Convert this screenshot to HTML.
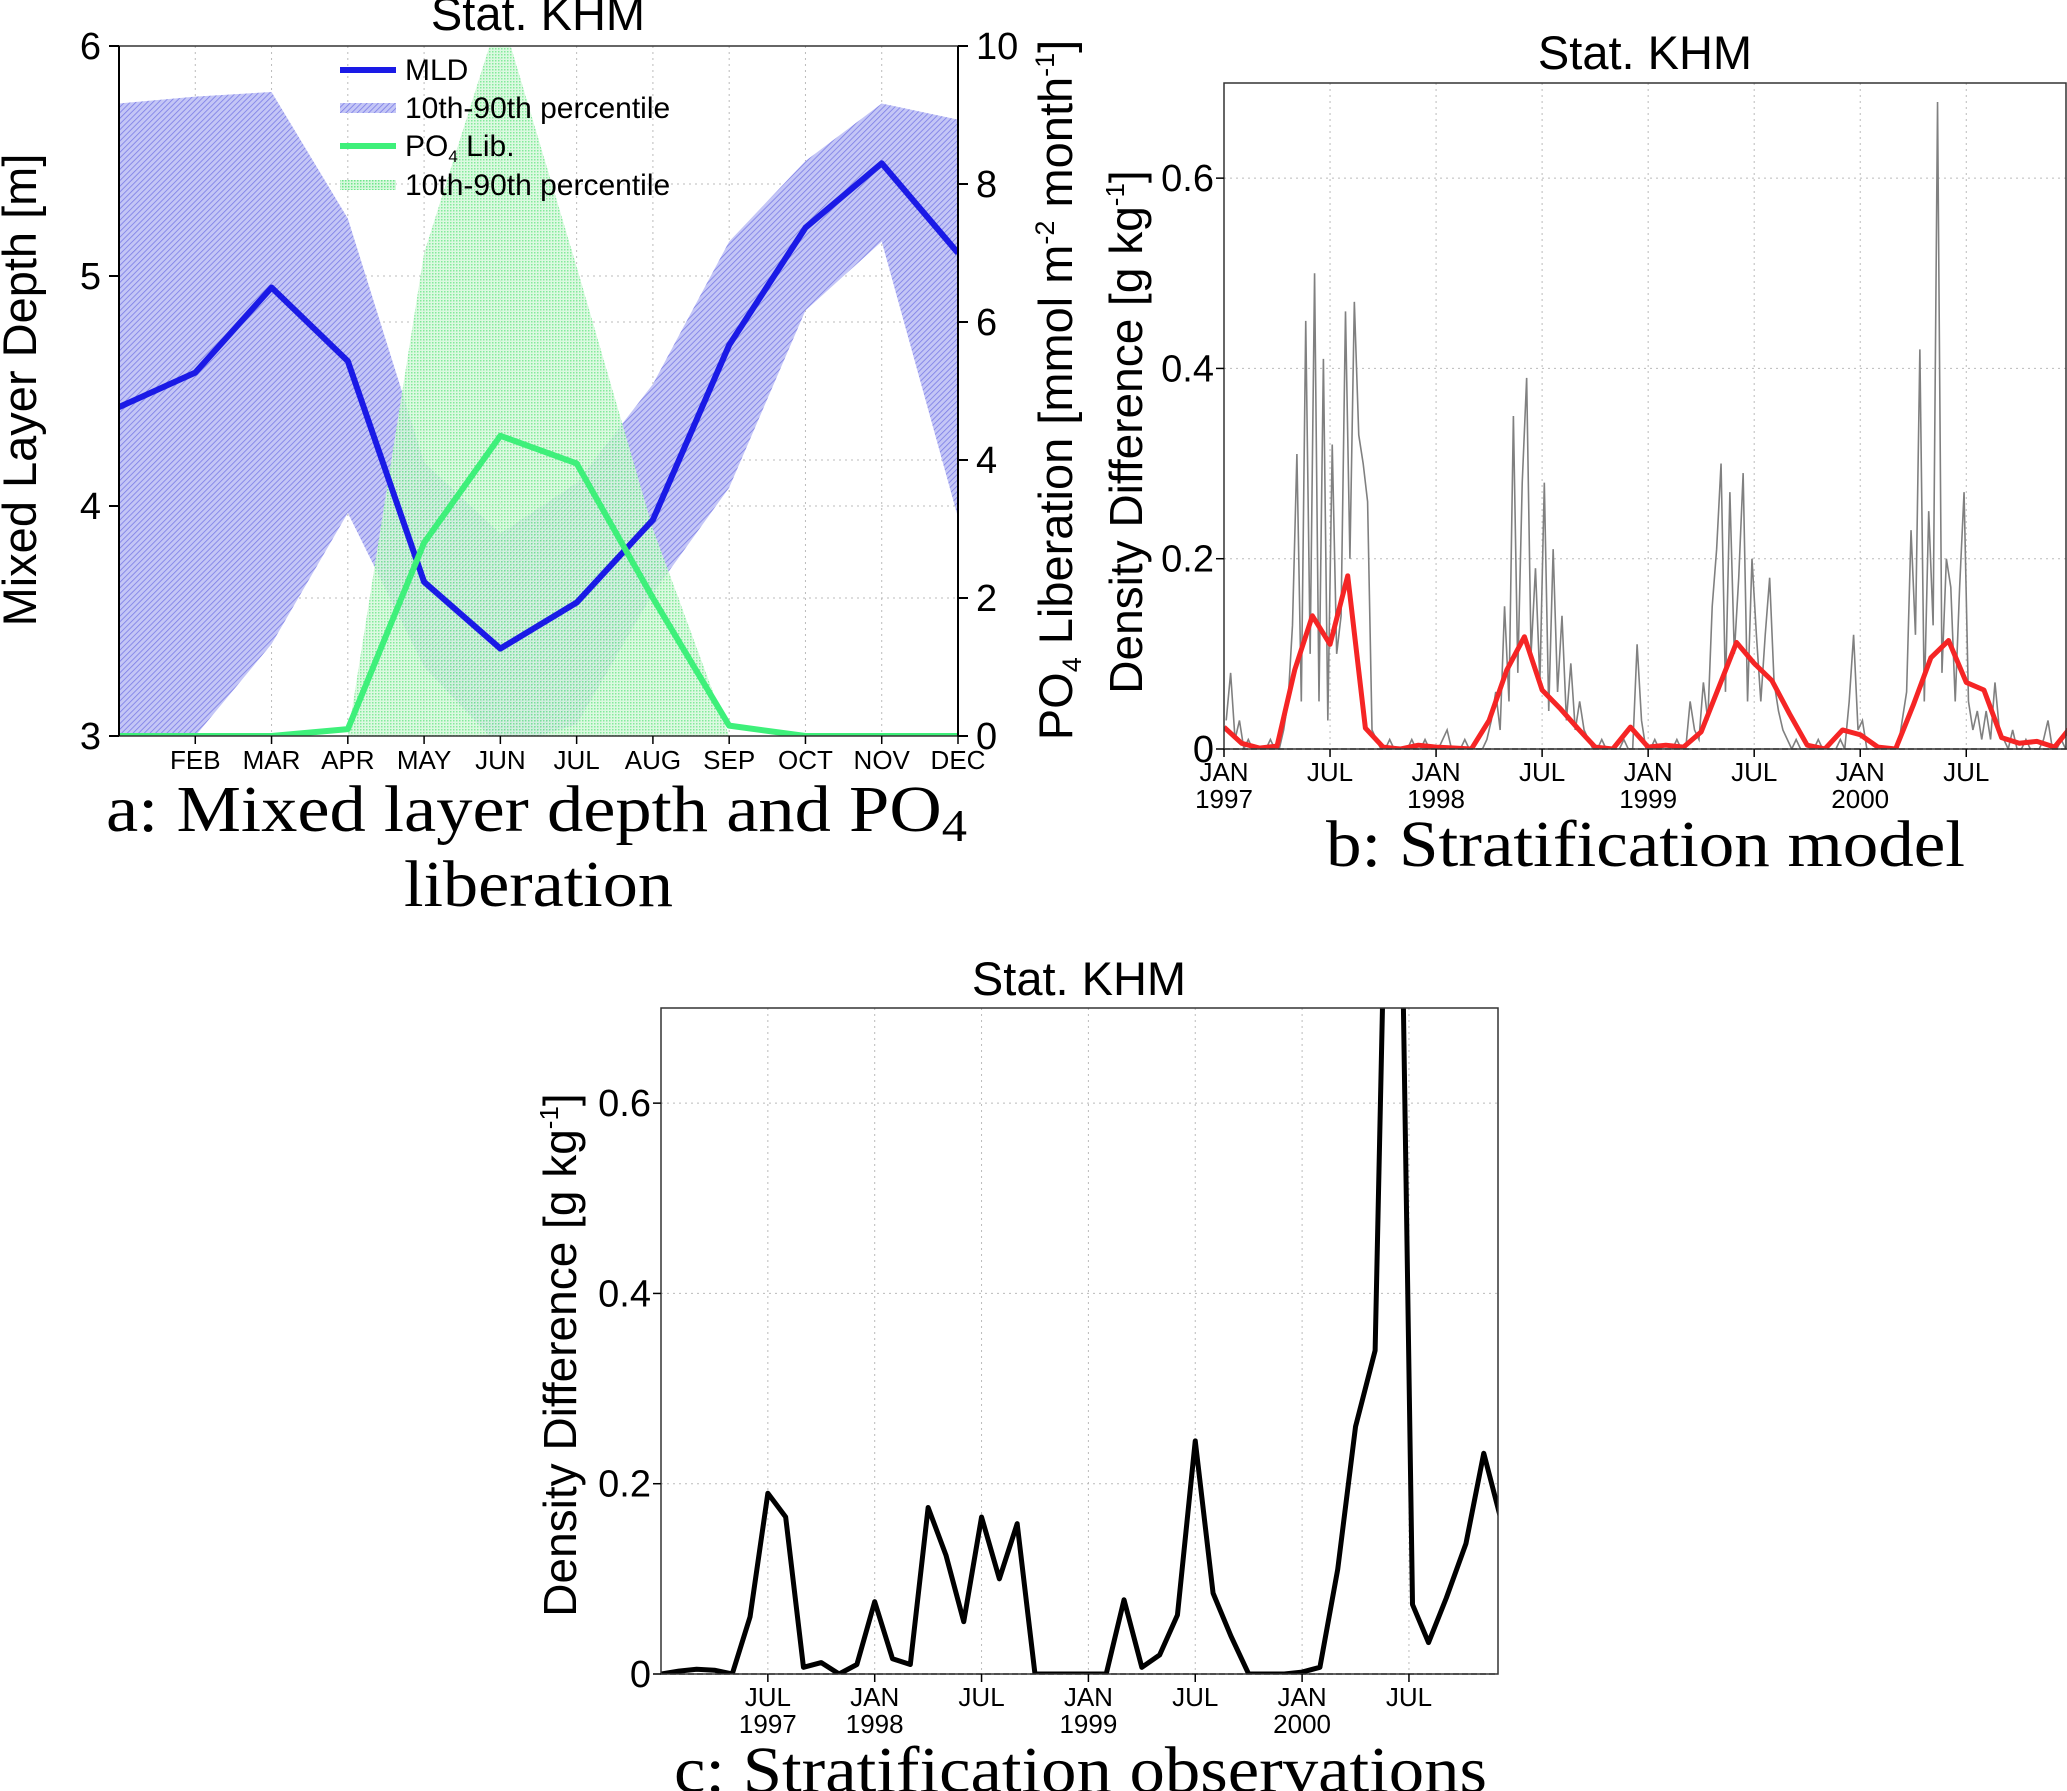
<!DOCTYPE html>
<html><head><meta charset="utf-8"><style>
html,body{margin:0;padding:0;background:#fff;}
svg{display:block;}
.t{font-family:"Liberation Sans Narrow","Liberation Sans",sans-serif;fill:#000;}
.s{font-family:"Liberation Sans",sans-serif;fill:#000;}
.cap{font-family:"Liberation Serif",serif;fill:#000;}
</style></head><body>
<svg id="fig" width="2067" height="1791" viewBox="0 0 2067 1791" xmlns="http://www.w3.org/2000/svg">
<defs>
<pattern id="hatch" width="4" height="4" patternUnits="userSpaceOnUse" patternTransform="rotate(45)">
<rect width="4" height="4" fill="#c4c6f6"/><line x1="0" y1="0" x2="0" y2="4" stroke="#7a7ce6" stroke-width="1.6"/></pattern>
<pattern id="dots" width="3" height="3" patternUnits="userSpaceOnUse">
<rect width="3" height="3" fill="#d6f8dc"/><rect width="1.5" height="1.5" fill="#6ee68a"/></pattern>
<clipPath id="clipA"><rect x="119" y="46" width="839" height="690"/></clipPath>
<clipPath id="clipB"><rect x="1224" y="83" width="843" height="666"/></clipPath>
<clipPath id="clipC"><rect x="661" y="1008" width="837" height="666"/></clipPath>
</defs>
<g id="pa"></g>
<g id="pb"></g>
<g id="pc"></g>
<text class="cap" x="106" y="831" font-size="66" textLength="861" lengthAdjust="spacingAndGlyphs">a:  Mixed layer depth and PO<tspan font-size="46" dy="10">4</tspan></text>
<text class="cap" x="404" y="906" font-size="66" textLength="269" lengthAdjust="spacingAndGlyphs">liberation</text>
<text class="cap" x="1326" y="866" font-size="66" textLength="639" lengthAdjust="spacingAndGlyphs">b:  Stratification model</text>
<text class="cap" x="674" y="1792" font-size="66" textLength="813" lengthAdjust="spacingAndGlyphs">c:  Stratification observations</text>
</svg>
<script>
// ---- Panel a data ----
const monthsA = ["JAN","FEB","MAR","APR","MAY","JUN","JUL","AUG","SEP","OCT","NOV","DEC"];
const mld = [4.43,4.58,4.95,4.63,3.67,3.38,3.58,3.94,4.70,5.21,5.49,5.10];
const mldHigh = [5.75,5.78,5.80,5.25,4.19,3.88,4.10,4.53,5.15,5.50,5.75,5.68];
const mldLow = [2.95,3.00,3.40,3.97,3.30,2.95,3.05,3.62,4.08,4.85,5.15,3.95];
const po4 = [0,0,0,0.1,2.8,4.35,3.95,2.0,0.15,0,0,0];
const po4High = [0,0,0,0,7.0,10.5,6.8,3.0,0,0,0,0];
const po4Low = [0,0,0,0,0,0,0,0,0,0,0,0];
const ticksLeftA = [3,4,5,6];
const ticksRightA = [0,2,4,6,8,10];
// ---- Panel b data ----
const redModel = [0.023,0.006,0.001,0.003,0.083,0.14,0.11,0.182,0.022,0.002,0.0,0.004,0.002,0.001,0.0,0.03,0.083,0.118,0.062,0.043,0.022,0.002,0.0,0.023,0.002,0.004,0.002,0.018,0.065,0.112,0.09,0.072,0.037,0.004,0.0,0.02,0.015,0.002,0.0,0.046,0.096,0.114,0.070,0.062,0.012,0.006,0.008,0.002,0.025];
const grayModel = [
0.03,0.08,0.01,0.03, 0,0.01,0,0, 0,0,0.01,0, 0,0.02,0.05,0.13,
0.31,0.05,0.45,0.1, 0.5,0.05,0.41,0.03, 0.32,0.1,0.14,0.46, 0.2,0.47,0.33,0.3,
0.26,0.02,0.01,0, 0,0.01,0,0, 0,0,0.01,0, 0,0.01,0,0,
0,0.01,0.02,0, 0,0,0.01,0, 0,0,0,0.01, 0.03,0.06,0.02,0.15,
0.05,0.35,0.08,0.28, 0.39,0.1,0.19,0.07, 0.28,0.04,0.21,0.06, 0.14,0.03,0.09,0.02,
0.05,0.02,0.01,0, 0,0.01,0,0, 0,0,0.01,0, 0,0.11,0.03,0,
0,0.01,0,0, 0,0,0.01,0, 0,0.05,0.02,0.01, 0.07,0.03,0.15,0.21,
0.3,0.06,0.27,0.1, 0.18,0.29,0.05,0.2, 0.12,0.05,0.12,0.18, 0.07,0.04,0.02,0.01,
0,0.01,0,0, 0,0,0.01,0, 0,0,0,0.01, 0,0.05,0.12,0.02,
0.03,0,0,0, 0,0,0,0, 0,0.03,0.06,0.23, 0.12,0.42,0.05,0.25,
0.13,0.68,0.08,0.2, 0.17,0.05,0.17,0.27, 0.05,0.02,0.04,0.01, 0.04,0.01,0.07,0.02,
0.01,0,0.02,0, 0,0.01,0,0, 0,0.01,0.03,0, 0,0.01,0,0];
const ticksY = [0,0.2,0.4,0.6];
const tickLabelsY = ["0","0.2","0.4","0.6"];
const ticksBMonth = [0,6,12,18,24,30,36,42];
const ticksBLab1 = ["JAN","JUL","JAN","JUL","JAN","JUL","JAN","JUL"];
const ticksBLab2 = ["1997","","1998","","1999","","2000",""];
// ---- Panel c data ----
const obsMonth = [0,1,2,3,4,5,6,7,8,9,10,11,12,13,14,15,16,17,18,19,20,21,22,23,24,25,26,27,28,29,30,31,32,33,34,35,36,37,38,39,40.1,41.2,42.2,43.1,44.1,45.2,46.2,47.2];
const obsVal = [0,0.003,0.005,0.004,0,0.06,0.19,0.165,0.007,0.012,0,0.01,0.076,0.016,0.01,0.175,0.125,0.055,0.165,0.1,0.158,0,0,0,0,0,0.078,0.007,0.02,0.062,0.245,0.085,0.04,0,0,0,0.002,0.007,0.11,0.26,0.34,1.3,0.073,0.033,0.08,0.137,0.232,0.16];
const ticksCMonth = [6,12,18,24,30,36,42];
const ticksCLab1 = ["JUL","JAN","JUL","JAN","JUL","JAN","JUL"];
const ticksCLab2 = ["1997","1998","","1999","","2000",""];

const NS="http://www.w3.org/2000/svg";
function mk(parent,tag,attrs,text){const e=document.createElementNS(NS,tag);for(const k in attrs)e.setAttribute(k,attrs[k]);if(text!==undefined)e.textContent=text;parent.appendChild(e);return e;}

// ===== Panel A =====
const pa=document.getElementById('pa');
const aL=119,aR=958,aT=46,aB=736;
const xA=i=>aL+i*(aR-aL)/11;
const yL=v=>aB-(v-3)/3*(aB-aT);
const yR=v=>aB-v/10*(aB-aT);
for(let i=1;i<12;i++){const g=mk(pa,'line',{x1:xA(i),x2:xA(i),y1:aT,y2:aB,stroke:'#bbb','stroke-dasharray':'2,4','stroke-width':1});
}
ticksLeftA.forEach(v=>{const g=mk(pa,'line',{x1:aL,x2:aR,y1:yL(v),y2:yL(v),stroke:'#bbb','stroke-dasharray':'2,4'});
});
ticksRightA.forEach(v=>{const g=mk(pa,'line',{x1:aL,x2:aR,y1:yR(v),y2:yR(v),stroke:'#bbb','stroke-dasharray':'2,4'});
});
const ca=mk(pa,'g',{'clip-path':'url(#clipA)'});
function band(arrH,arrL,yf){let d='';arrH.forEach((v,i)=>{d+=(i?'L':'M')+xA(i)+','+yf(v);});for(let i=arrL.length-1;i>=0;i--)d+='L'+xA(i)+','+yf(arrL[i]);return d+'Z';}
const bb=mk(ca,'path',{d:band(mldHigh,mldLow,yL),fill:'url(#hatch)'});

const gb=mk(ca,'path',{d:band(po4High,po4Low,yR),fill:'url(#dots)','fill-opacity':0.85});

const ml=mk(ca,'polyline',{points:mld.map((v,i)=>xA(i)+','+yL(v)).join(' '),fill:'none',stroke:'#1a1ae6','stroke-width':6,'stroke-linejoin':'round'});

const pl=mk(ca,'polyline',{points:po4.map((v,i)=>xA(i)+','+yR(v)).join(' '),fill:'none',stroke:'#3ef07a','stroke-width':6,'stroke-linejoin':'round'});

const fa=mk(pa,'rect',{x:aL,y:aT,width:aR-aL,height:aB-aT,fill:'none',stroke:'#333','stroke-width':1.5});

mk(pa,'line',{x1:aL,x2:aL,y1:aT,y2:aB,stroke:'#000','stroke-width':2});
mk(pa,'line',{x1:aR,x2:aR,y1:aT,y2:aB,stroke:'#000','stroke-width':2});
ticksLeftA.forEach(v=>{mk(pa,'line',{x1:aL-10,x2:aL,y1:yL(v),y2:yL(v),stroke:'#000','stroke-width':2});
const t=mk(pa,'text',{class:'t',x:aL-18,y:yL(v)+13,'font-size':38,'text-anchor':'end'},String(v));
});
ticksRightA.forEach(v=>{mk(pa,'line',{x1:aR,x2:aR+10,y1:yR(v),y2:yR(v),stroke:'#000','stroke-width':2});
const t=mk(pa,'text',{class:'t',x:aR+18,y:yR(v)+13,'font-size':38},String(v));
});
monthsA.forEach((m,i)=>{if(i===0)return;mk(pa,'line',{x1:xA(i),x2:xA(i),y1:aB,y2:aB+8,stroke:'#000','stroke-width':1.5});
const t=mk(pa,'text',{class:'t',x:xA(i),y:aB+33,'font-size':26,'text-anchor':'middle'},m);
});
const ta=mk(pa,'text',{class:'s',x:538,y:30,'font-size':47,'text-anchor':'middle'},'Stat. KHM');

const yla=mk(pa,'text',{class:'s',x:0,y:0,'font-size':47,'text-anchor':'middle',transform:'translate(36,390) rotate(-90)'},'Mixed Layer Depth [m]');

const yra=mk(pa,'text',{class:'s',x:0,y:0,'font-size':47,'text-anchor':'middle',transform:'translate(1072,390) rotate(-90)'});

yra.innerHTML='PO<tspan font-size="27" dy="9">4</tspan><tspan dy="-9"> Liberation [mmol m</tspan><tspan font-size="27" dy="-18">-2</tspan><tspan dy="18"> month</tspan><tspan font-size="27" dy="-18">-1</tspan><tspan dy="18">]</tspan>';
const legRows=[{y:70,type:'line',c:'#1a1ae6',t:'MLD'},{y:108,type:'hatch',t:'10th-90th percentile'},{y:146,type:'line',c:'#3ef07a',t:'PO4'},{y:185,type:'dots',t:'10th-90th percentile'}];
legRows.forEach((r,i)=>{const g=mk(pa,'g',{});

if(r.type==='line')mk(g,'line',{x1:340,x2:396,y1:r.y,y2:r.y,stroke:r.c,'stroke-width':6});
else mk(g,'rect',{x:340,y:r.y-5,width:56,height:10,fill:r.type==='hatch'?'url(#hatch)':'url(#dots)'});
const t=mk(g,'text',{class:'s',x:405,y:r.y+10,'font-size':30});
if(i===2)t.innerHTML='PO<tspan font-size="17" dy="6">4</tspan><tspan dy="-6"> Lib.</tspan>';else t.textContent=r.t;});

// ===== Panel B =====
const pb=document.getElementById('pb');
const bL=1224,bR=2067,bT=83,bB=749;
const mw=(bR-bL)/47.7;
const xB=m=>bL+m*mw;
const yB=v=>bB-v/0.7*(bB-bT);
ticksBMonth.forEach(m=>{if(m>0){const g=mk(pb,'line',{x1:xB(m),x2:xB(m),y1:bT,y2:bB,stroke:'#bbb','stroke-dasharray':'2,4'});}});
ticksY.forEach(v=>{if(v>0){const g=mk(pb,'line',{x1:bL,x2:bR,y1:yB(v),y2:yB(v),stroke:'#bbb','stroke-dasharray':'2,4'});}});
const cb=mk(pb,'g',{'clip-path':'url(#clipB)'});
const gl=mk(cb,'polyline',{points:grayModel.map((v,i)=>xB(i/4+0.125)+','+yB(v)).join(' '),fill:'none',stroke:'#808080','stroke-width':1.6});

const rl=mk(cb,'polyline',{points:redModel.map((v,i)=>xB(i)+','+yB(v)).join(' '),fill:'none',stroke:'#f52525','stroke-width':5,'stroke-linejoin':'round'});

mk(pb,'line',{x1:bL,x2:bR,y1:bB,y2:bB,stroke:'#444','stroke-dasharray':'6,3','stroke-width':1.5});
const fb=mk(pb,'rect',{x:bL,y:bT,width:bR-bL-1,height:bB-bT,fill:'none',stroke:'#333','stroke-width':1.5});

ticksY.forEach((v,i)=>{mk(pb,'line',{x1:bL-8,x2:bL,y1:yB(v),y2:yB(v),stroke:'#000','stroke-width':1.5});
const t=mk(pb,'text',{class:'t',x:bL-10,y:yB(v)+13,'font-size':38,'text-anchor':'end'},tickLabelsY[i]);
});
ticksBMonth.forEach((m,i)=>{mk(pb,'line',{x1:xB(m),x2:xB(m),y1:bB,y2:bB+8,stroke:'#000','stroke-width':1.5});
const t=mk(pb,'text',{class:'t',x:xB(m),y:bB+32,'font-size':26,'text-anchor':'middle'},ticksBLab1[i]);

if(ticksBLab2[i]){const t2=mk(pb,'text',{class:'t',x:xB(m),y:bB+59,'font-size':26,'text-anchor':'middle'},ticksBLab2[i]);
}});
const tb=mk(pb,'text',{class:'s',x:1645,y:69,'font-size':47,'text-anchor':'middle'},'Stat. KHM');

const ylb=mk(pb,'text',{class:'s',x:0,y:0,'font-size':46,'text-anchor':'middle',transform:'translate(1142,432) rotate(-90)'});

ylb.innerHTML='Density Difference [g kg<tspan font-size="26" dy="-18">-1</tspan><tspan dy="18">]</tspan>';

// ===== Panel C =====
const pc=document.getElementById('pc');
const cL=661,cR=1498,cT=1008,cB=1674;
const xC=m=>cL+m*(cR-cL)/47;
const yC=v=>cB-v/0.7*(cB-cT);
ticksCMonth.forEach(m=>{const g=mk(pc,'line',{x1:xC(m),x2:xC(m),y1:cT,y2:cB,stroke:'#bbb','stroke-dasharray':'2,4'});});
ticksY.forEach(v=>{if(v>0){const g=mk(pc,'line',{x1:cL,x2:cR,y1:yC(v),y2:yC(v),stroke:'#bbb','stroke-dasharray':'2,4'});}});
mk(pc,'line',{x1:cL,x2:cR,y1:cB,y2:cB,stroke:'#444','stroke-dasharray':'6,3','stroke-width':1.5});
const cc=mk(pc,'g',{'clip-path':'url(#clipC)'});
const ol=mk(cc,'polyline',{points:obsVal.map((v,i)=>xC(obsMonth[i])+','+yC(v)).join(' '),fill:'none',stroke:'#000','stroke-width':5,'stroke-linejoin':'round'});

const fc=mk(pc,'rect',{x:cL,y:cT,width:cR-cL,height:cB-cT,fill:'none',stroke:'#333','stroke-width':1.5});

ticksY.forEach((v,i)=>{mk(pc,'line',{x1:cL-8,x2:cL,y1:yC(v),y2:yC(v),stroke:'#000','stroke-width':1.5});
const t=mk(pc,'text',{class:'t',x:cL-10,y:yC(v)+13,'font-size':38,'text-anchor':'end'},tickLabelsY[i]);
});
ticksCMonth.forEach((m,i)=>{mk(pc,'line',{x1:xC(m),x2:xC(m),y1:cB,y2:cB+8,stroke:'#000','stroke-width':1.5});
const t=mk(pc,'text',{class:'t',x:xC(m),y:cB+32,'font-size':26,'text-anchor':'middle'},ticksCLab1[i]);

if(ticksCLab2[i]){const t2=mk(pc,'text',{class:'t',x:xC(m),y:cB+59,'font-size':26,'text-anchor':'middle'},ticksCLab2[i]);
}});
const tc=mk(pc,'text',{class:'s',x:1079,y:995,'font-size':47,'text-anchor':'middle'},'Stat. KHM');

const ylc=mk(pc,'text',{class:'s',x:0,y:0,'font-size':46,'text-anchor':'middle',transform:'translate(576,1355) rotate(-90)'});

ylc.innerHTML='Density Difference [g kg<tspan font-size="26" dy="-18">-1</tspan><tspan dy="18">]</tspan>';
</script>
</body></html>
